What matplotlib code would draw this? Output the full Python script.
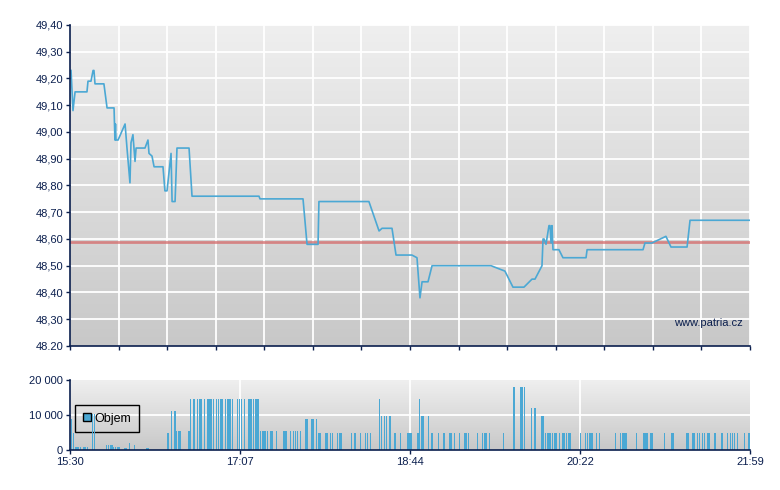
import matplotlib
matplotlib.use("Agg")
import matplotlib.pyplot as plt
import numpy as np
from matplotlib.patches import Patch

plt.rcParams['font.family'] = ['Liberation Sans', 'DejaVu Sans']

NAVY = '#0b1f4e'
BLUE = '#4ba8d4'

# price: minutes after 15:30, price
t_price = [0.6, 1.7, 2.9, 9.7, 10.3, 12.0, 13.2, 13.7, 14.3, 19.4, 21.2, 25.2, 25.7, 26.0,
           26.3, 27.5, 31.5, 32.6, 34.3, 34.9, 36.0, 37.2, 37.8, 42.9, 44.6, 45.2, 46.9, 48.1,
           53.2, 54.3, 55.5, 57.8, 58.4, 60.1, 61.2, 68.1, 69.8, 108.1, 108.7, 133.3, 135.6,
           141.9, 142.4, 171.0, 176.8, 178.5, 184.2, 186.5, 195.6, 198.5, 200.2, 201.4, 204.8,
           207.1, 240.9, 248.8, 253.4, 259.7, 264.3, 266.0, 270.0, 270.6, 271.2, 272.3, 274.0,
           274.6, 275.2, 275.7, 276.3, 279.7, 282.0, 295.2, 295.8, 327.8, 328.9, 332.9, 340.9,
           343.8, 353.0, 354.7, 389.0]
price = [49.23, 49.08, 49.15, 49.15, 49.19, 49.19, 49.23, 49.23, 49.18, 49.18, 49.09, 49.09,
         48.97, 49.03, 48.97, 48.97, 49.03, 48.94, 48.81, 48.96, 48.99, 48.89, 48.94, 48.94,
         48.97, 48.92, 48.91, 48.87, 48.87, 48.78, 48.78, 48.92, 48.74, 48.74, 48.94, 48.94,
         48.76, 48.76, 48.75, 48.75, 48.58, 48.58, 48.74, 48.74, 48.63, 48.64, 48.64, 48.54,
         48.54, 48.53, 48.38, 48.44, 48.44, 48.50, 48.50, 48.48, 48.42, 48.42, 48.45, 48.45,
         48.50, 48.60, 48.60, 48.58, 48.65, 48.65, 48.585, 48.65, 48.56, 48.56, 48.53, 48.53,
         48.56, 48.56, 48.585, 48.585, 48.61, 48.57, 48.57, 48.67, 48.67]
prev_close = 48.59

# volume: minute (after 15:30) of each trade bar, grouped by traded amount
vol_by_level = {
    500: [31],
    700: [32, 44, 45],
    1000: [3, 4, 5, 6, 8, 9, 10, 25, 26, 27, 28],
    1400: [21, 22, 23, 24, 37],
    2000: [34],
    5000: [2, 56, 142, 143, 146, 147, 149, 150, 153, 154, 155, 161, 163, 166, 169, 170, 172,
           186, 189, 193, 194, 195, 199, 207, 211, 214, 217, 218, 220, 223, 226, 227, 228,
           233, 236, 237, 238, 240, 248, 272, 273, 274, 275, 276, 277, 278, 280, 282, 283,
           284, 285, 286, 292, 295, 296, 297, 298, 299, 301, 303, 312, 315, 316, 317, 318,
           324, 328, 329, 330, 332, 333, 340, 344, 345, 353, 354, 356, 357, 359, 360, 362,
           363, 365, 366, 369, 373, 376, 378, 379, 380, 382, 386, 388, 389],
    5300: [61, 62, 63, 68, 109, 110, 111, 112, 113, 115, 116, 118, 122, 123, 124, 126, 128,
           129, 130, 132],
    9000: [1, 135, 136, 138, 139, 141],
    9700: [178, 180, 181, 183, 201, 202, 205, 270, 271],
    10300: [13, 14],
    11100: [58, 60],
    12000: [264, 266],
    14600: [69, 71, 73, 74, 75, 77, 79, 80, 81, 82, 84, 85, 86, 87, 89, 90, 91, 92, 93, 96,
            97, 98, 100, 102, 103, 104, 105, 106, 107, 108, 177, 200],
    18000: [254, 258, 259, 260],
}

x_labels = ['15:30', '17:07', '18:44', '20:22', '21:59']
span = 389.0

vol_min = []
vol = []
for level, mins in vol_by_level.items():
    vol_min += mins
    vol += [level] * len(mins)

fig = plt.figure(figsize=(7.8, 4.9), dpi=100)
ax = fig.add_axes([70 / 780, 1 - 346 / 490, 680 / 780, 321 / 490])
axv = fig.add_axes([70 / 780, 1 - 450 / 490, 680 / 780, 70 / 490])

grad = np.linspace(0, 1, 256).reshape(-1, 1)
cmap = matplotlib.colors.LinearSegmentedColormap.from_list('g', ['#efefef', '#c8c8c8'])
for a in (ax, axv):
    a.imshow(grad, extent=[0, 1, 0, 1], transform=a.transAxes, aspect='auto',
             cmap=cmap, zorder=0, interpolation='bicubic')
    for s in ('top', 'right'):
        a.spines[s].set_visible(False)
    for s in ('left', 'bottom'):
        a.spines[s].set_color(NAVY)
        a.spines[s].set_linewidth(1.2)
        a.spines[s].set_zorder(5)
    a.tick_params(colors=NAVY, labelcolor=NAVY, labelsize=8, length=3, width=1, pad=2)
    a.set_xlim(0, span)

# price chart
ax.set_ylim(48.2, 49.4)
yt = np.round(np.arange(48.2, 49.41, 0.1), 2)
ax.set_yticks(yt)
ax.set_yticklabels(['48.20'] + [('%.2f' % v).replace('.', ',') for v in yt[1:]])
xt = np.linspace(0, span, 15)
ax.set_xticks(xt)
ax.set_xticklabels([])
for v in yt[1:]:
    ax.axhline(v, color='white', lw=1.3, zorder=1)
for v in xt[1:]:
    ax.axvline(v, color='white', lw=1.3, zorder=1)
ax.axhline(prev_close, color='#d46a6a', lw=2, alpha=0.75, zorder=2)
ax.plot(t_price, price, color=BLUE, lw=1.2, zorder=3)
ax.text(0.99, 0.072, 'www.patria.cz', transform=ax.transAxes, ha='right', va='center',
        fontsize=8, color=NAVY, zorder=4)

# volume chart
axv.set_ylim(0, 20000)
axv.set_yticks([0, 10000, 20000])
axv.set_yticklabels(['0', '10 000', '20 000'])
xv = np.linspace(0, span, 5)
axv.set_xticks(xv)
axv.set_xticklabels(x_labels)
axv.axhline(10000, color='white', lw=1.3, zorder=1)
for v in xv[1:-1]:
    axv.axvline(v, color='white', lw=1.3, zorder=1)
axv.bar(vol_min, vol, width=0.75, color=BLUE, zorder=3)
leg = axv.legend(handles=[Patch(facecolor=BLUE, edgecolor='black', lw=1, label='Objem')],
                 loc='upper left', bbox_to_anchor=(5 / 680, 45 / 70), borderaxespad=0,
                 fontsize=9, fancybox=False, edgecolor='black',
                 handlelength=0.65, handleheight=0.65, handletextpad=0.3, borderpad=0.6)
frame = leg.get_frame()
frame.set_linewidth(1)
frame.set_facecolor('none')
frame.set_edgecolor('black')
frame.set_alpha(None)
leg.set_zorder(2)

fig.savefig('out.png', dpi=100)
